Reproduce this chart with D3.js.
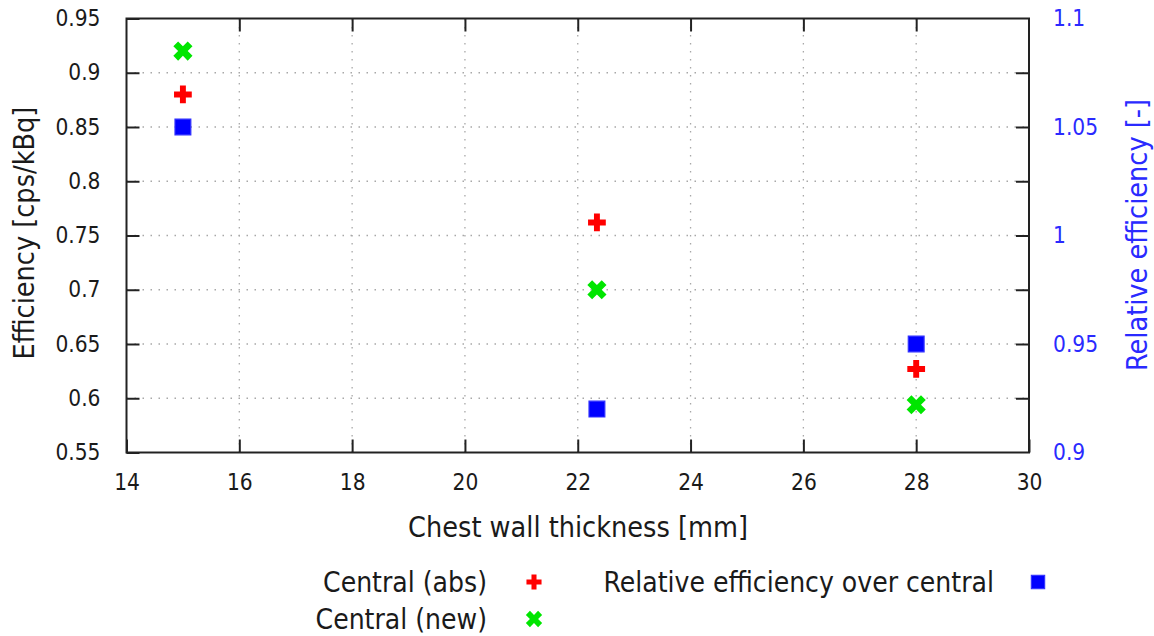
<!DOCTYPE html>
<html>
<head>
<meta charset="UTF-8">
<title>Efficiency vs chest wall thickness</title>
<script src="https://d3js.org/d3.v7.min.js"></script>
<style>
  body { margin: 0; background: #fff; }
  text { font-family: "DejaVu Sans Condensed", "DejaVu Sans", sans-serif; font-stretch: condensed; fill: #1a1a1a; }
  .grid line { stroke: #a8a8a8; stroke-width: 1.3; stroke-dasharray: 1.5 6.5; }
</style>
</head>
<body>
<svg width="1154" height="636"></svg>
<script>
// data
const thickness = [15, 22.34, 28];
const centralAbs = [0.880, 0.762, 0.627];
const centralNew = [0.920, 0.700, 0.594];
const relEff = [1.05, 0.92, 0.95];

const xTicks = [14, 16, 18, 20, 22, 24, 26, 28, 30];
const yTicks = [0.55, 0.6, 0.65, 0.7, 0.75, 0.8, 0.85, 0.9, 0.95];
const y2Ticks = [0.9, 0.95, 1, 1.05, 1.1];

const blue = "#2a2aff";
const svg = d3.select("svg");
const L = 126.5, R = 1029, T = 18.5, B = 452.5;

const x = d3.scaleLinear().domain([14, 30]).range([L, R]);
const y = d3.scaleLinear().domain([0.55, 0.95]).range([B, T]);
const y2 = d3.scaleLinear().domain([0.9, 1.1]).range([B, T]);

// grid
const grid = svg.append("g").attr("class", "grid");
grid.selectAll(".gx").data(xTicks.slice(1, -1)).enter().append("line")
    .attr("x1", d => x(d)).attr("x2", d => x(d)).attr("y1", B).attr("y2", T);
grid.selectAll(".gy").data(yTicks.slice(1, -1)).enter().append("line")
    .attr("y1", d => y(d)).attr("y2", d => y(d)).attr("x1", L).attr("x2", R);

// axes, ticks inward, mirrored on opposite sides
const fmt = d => String(+d.toFixed(2));
const tk = 13;
const styleAxis = g => {
  g.select(".domain").remove();
  g.selectAll(".tick line").attr("stroke", "#222").attr("stroke-width", 2);
  g.selectAll(".tick text").style("font-size", "22.5px");
};
svg.append("g").attr("transform", `translate(0,${B})`)
  .call(d3.axisBottom(x).tickValues(xTicks).tickFormat(fmt).tickSize(-tk).tickPadding(22))
  .call(styleAxis);
svg.append("g").attr("transform", `translate(0,${T})`)
  .call(d3.axisTop(x).tickValues(xTicks.slice(1, -1)).tickFormat("").tickSize(-tk))
  .call(styleAxis);
svg.append("g").attr("transform", `translate(${L},0)`)
  .call(d3.axisLeft(y).tickValues(yTicks).tickFormat(fmt).tickSize(-tk).tickPadding(26))
  .call(styleAxis);
svg.append("g").attr("transform", `translate(${R},0)`)
  .call(d3.axisRight(y).tickValues(yTicks.slice(1, -1)).tickFormat("").tickSize(-tk))
  .call(styleAxis);
const ax2 = svg.append("g").attr("transform", `translate(${R},0)`)
  .call(d3.axisRight(y2).tickValues(y2Ticks).tickFormat(fmt).tickSize(0).tickPadding(24))
  .call(styleAxis);
ax2.selectAll(".tick text").style("fill", blue);

// frame
svg.append("rect").attr("x", L).attr("y", T).attr("width", R - L).attr("height", B - T)
  .attr("fill", "none").attr("stroke", "#222").attr("stroke-width", 2);

// axis titles
svg.append("text").attr("x", 578).attr("y", 537).attr("text-anchor", "middle")
  .style("font-size", "28.5px").text("Chest wall thickness [mm]");
svg.append("text").attr("transform", "translate(34,233) rotate(-90)")
  .attr("text-anchor", "middle").style("font-size", "28.5px").text("Efficiency [cps/kBq]");
svg.append("text").attr("transform", "translate(1147,235) rotate(-90)")
  .attr("text-anchor", "middle").style("font-size", "28.5px").style("fill", blue)
  .text("Relative efficiency [-]");

// markers
const plusPath = d3.symbol(d3.symbolCross, 175)();
const xPath = d3.symbol(d3.symbolCross, 230)();
const squarePath = d3.symbol(d3.symbolSquare, 250)();
function marker(g, kind) {
  if (kind === "abs") g.append("path").attr("d", plusPath).attr("fill", "#ff0000");
  else if (kind === "new") g.append("path").attr("d", xPath).attr("fill", "#00e600").attr("transform", "rotate(45)");
  else g.append("path").attr("d", squarePath).attr("fill", "#0000ff").attr("stroke", "#3030ff").attr("stroke-width", 1.2);
}
const pts = svg.append("g");
thickness.forEach((t, i) => {
  marker(pts.append("g").attr("transform", `translate(${x(t)},${y(centralAbs[i])})`), "abs");
  marker(pts.append("g").attr("transform", `translate(${x(t)},${y(centralNew[i])})`), "new");
  marker(pts.append("g").attr("transform", `translate(${x(t)},${y2(relEff[i])})`), "rel");
});

// legend
const legend = [
  { label: "Central (abs)", kind: "abs", tx: 487, mx: 534, cy: 582 },
  { label: "Central (new)", kind: "new", tx: 487, mx: 534, cy: 619 },
  { label: "Relative efficiency over central", kind: "rel", tx: 994, mx: 1038, cy: 582 }
];
legend.forEach(d => {
  svg.append("text").attr("x", d.tx).attr("y", d.cy + 10).attr("text-anchor", "end")
    .style("font-size", "28px").text(d.label);
  marker(svg.append("g").attr("transform", `translate(${d.mx},${d.cy}) scale(0.85)`), d.kind);
});
</script>
</body>
</html>
